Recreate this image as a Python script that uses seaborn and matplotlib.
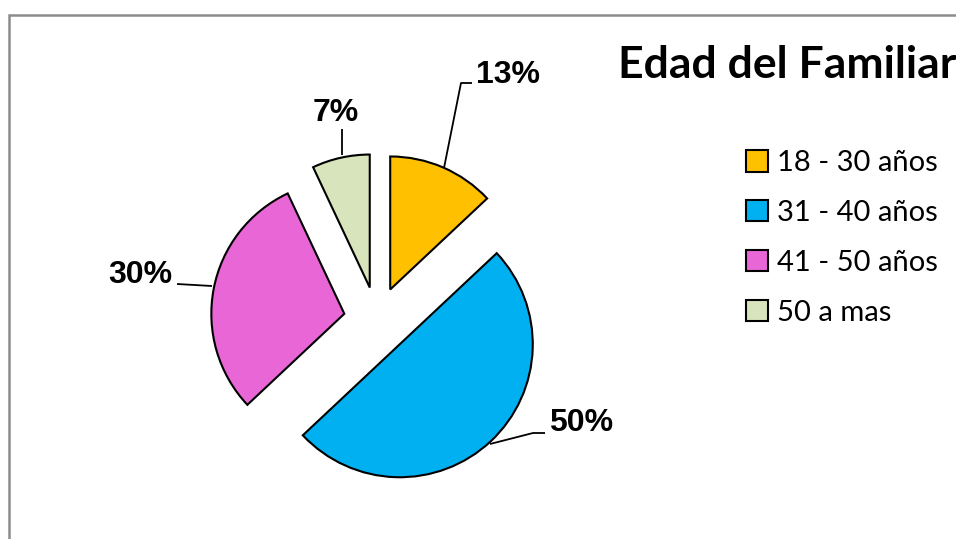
import matplotlib
matplotlib.use("Agg")
import matplotlib.pyplot as plt
import seaborn as sns
from matplotlib.patches import Rectangle

sns.set_theme(style="white")
plt.rcParams['font.family'] = ['Liberation Sans', 'DejaVu Sans']
plt.rcParams['text.color'] = 'black'

# Data
categories = ["18 - 30 años", "31 - 40 años", "41 - 50 años", "50 a mas"]
values = [13, 50, 30, 7]
pct_labels = ["13%", "50%", "30%", "7%"]
colors = ["#FFC000", "#00B0F0", "#E966D6", "#D8E4BC"]
title = "Edad del Familiar"

W, H = 956, 539
fig = plt.figure(figsize=(W / 100, H / 100), dpi=100)
fig.patch.set_facecolor("white")

# pie axes: center at pixel (377,320), radius 133 px
cx, cy, R = 377, 320, 133
half = 200
ax = fig.add_axes([(cx - half) / W, (H - cy - half) / H, 2 * half / W, 2 * half / H])

wedges, _ = ax.pie(values, colors=colors, startangle=90, counterclock=False,
                   explode=[0.25] * len(values), radius=1.0,
                   wedgeprops=dict(edgecolor="black", linewidth=1.5))
ax.set_xlim(-half / R, half / R)
ax.set_ylim(-half / R, half / R)
ax.set_aspect("equal")
ax.axis("off")


def d(px, py):
    return ((px - cx) / R, (cy - py) / R)

# leader lines and labels
lines = {
    "13%": [(444, 168), (461, 83), (472, 83)],
    "50%": [(490, 444), (533, 433), (545, 433)],
    "30%": [(212, 286), (177, 284)],
    "7%": [(342, 155), (342, 129)],
}
text_pos = {
    "13%": (508, 75),
    "50%": (581, 423),
    "30%": (140, 275),
    "7%": (336, 113),
}
for lab in pct_labels:
    pts = [d(*p) for p in lines[lab]]
    ax.plot([p[0] for p in pts], [p[1] for p in pts], color="black", lw=1.3,
            clip_on=False, solid_capstyle="butt")
    tx, ty = d(*text_pos[lab])
    ax.text(tx, ty, lab, ha="center", va="center", fontsize=23, fontweight="bold",
            color="black", family=["Liberation Sans", "DejaVu Sans"], clip_on=False)

# title
fig.text(618 / W, 1 - 65 / H, title, ha="left", va="center", fontsize=32,
         fontweight="bold", color="black", family=["Lato", "DejaVu Sans"])

# legend
leg = fig.legend(wedges, categories, loc="upper left",
                 bbox_to_anchor=(746 / W, 1 - 150 / H), frameon=False,
                 handlelength=0.75, handleheight=0.75, handletextpad=0.3,
                 labelspacing=0.82, borderaxespad=0, borderpad=0,
                 labelcolor="black",
                 prop=dict(family=["Lato", "DejaVu Sans"], size=21))

# outer border (partially cut)
fig.patches.append(Rectangle((8.5 / W, -0.1), 1.2, 1 - 15.5 / H + 0.1,
                             transform=fig.transFigure, fill=False,
                             edgecolor="#8C8C8C", lw=1.8))

fig.savefig("out.png", dpi=100)
